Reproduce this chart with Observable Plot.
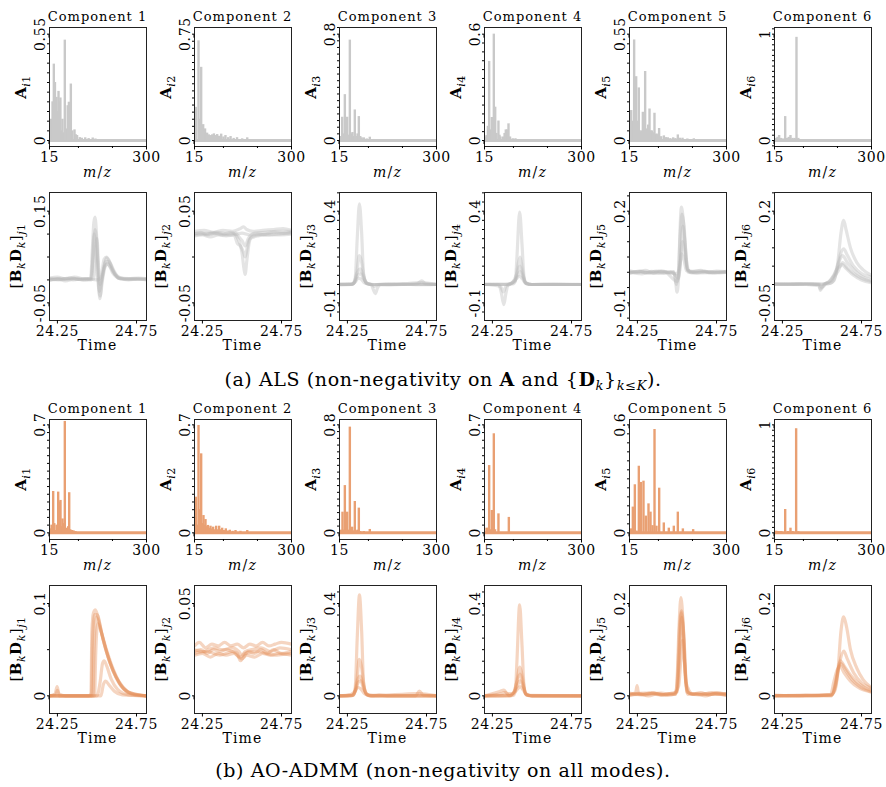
<!DOCTYPE html>
<html><head><meta charset="utf-8">
<script src="https://cdn.jsdelivr.net/npm/d3@7"></script>
<script src="https://cdn.jsdelivr.net/npm/@observablehq/plot@0.6"></script>
<style>
body{margin:0;background:#fff;}
#fig{position:relative;width:886px;height:787px;font-family:"DejaVu Serif",serif;color:#000;overflow:hidden;}
#fig svg{position:absolute;overflow:visible;}
#fig svg text{letter-spacing:0.6px;}
.lbl{position:absolute;white-space:nowrap;transform:translate(-50%,-50%);line-height:1;}
.ttl{font-size:13px;letter-spacing:1px;}
.xl{font-size:14px;letter-spacing:1.2px;}
.yl{font-size:15px;letter-spacing:0.5px;transform:translate(-50%,-50%) rotate(-90deg);}
.yl sub{font-size:11px;}
.cap{font-size:19px;letter-spacing:0.6px;}
.cap sub{font-size:13px;}
</style></head><body><div id="fig"></div><script>
// ---------- data ----------
const components = ["Component 1","Component 2","Component 3","Component 4","Component 5","Component 6"];
const mzTicks = [15, 300];
const mzMinorTicks = [100, 200];
const timeTicks = [24.25, 24.75];
const mzRange = [15, 300];
const timeRange = [24.2, 24.813];

// (a) ALS, spectra A_{ir}: [m/z, height]
const alsSpec1 = [[20,0.11],[24,0.2],[27.7,0.395],[31,0.3],[35.6,0.223],[38,0.15],[41.5,0.254],[44,0.2],[47,0.22],[50,0.05],[53,0.11],[56,0.04],[60,0.519],[63,0.06],[66,0.04],[68.5,0.18],[72,0.198],[74.5,0.12],[77.7,0.292],[82,0.05],[88.5,0.055],[92,0.03],[96,0.026],[104,0.015],[110,0.012],[120,0.014],[130,0.01],[142,0.013],[150,0.008]];
const alsSpec2 = [[19,0.234],[26.8,0.703],[30.5,0.15],[34.6,0.516],[38,0.08],[40.5,0.112],[43.5,0.07],[46,0.082],[49,0.05],[52,0.052],[57,0.04],[62,0.035],[67,0.04],[72,0.047],[77,0.035],[81.6,0.042],[87,0.03],[93.4,0.045],[100,0.025],[106,0.035],[114,0.02],[121,0.028],[130,0.015],[140,0.02],[155,0.012],[170,0.019]];
const alsSpec3 = [[20,0.03],[23,0.175],[26,0.05],[30.7,0.345],[34,0.05],[37.5,0.175],[41,0.04],[45.4,0.755],[49,0.05],[53,0.06],[56,0.03],[60,0.23],[64,0.03],[68,0.05],[71.8,0.18],[76,0.03],[80,0.02],[86.5,0.02],[95,0.012],[104,0.025],[115,0.008]];
const alsSpec4 = [[18,0.02],[21,0.028],[25,0.08],[28.7,0.446],[32,0.06],[36.5,0.13],[39,0.05],[42.4,0.6],[46.4,0.188],[50,0.04],[56,0.11],[59,0.03],[62,0.02],[70,0.02],[74,0.04],[77.6,0.06],[82,0.06],[85.5,0.094],[90,0.02],[98,0.01],[106,0.01]];
const alsSpec5 = [[17,0.08],[20,0.155],[25,0.1],[28.7,0.52],[32,0.2],[34.6,0.33],[38,0.1],[42.4,0.272],[45,0.05],[47.3,0.043],[51,0.05],[54.2,0.146],[58,0.07],[61,0.357],[64,0.06],[67,0.05],[70,0.08],[73.8,0.163],[77,0.05],[80.6,0.05],[84,0.04],[88.4,0.141],[91,0.03],[94.4,0.034],[98,0.03],[102,0.062],[108,0.02],[116,0.024],[122,0.015],[127.6,0.014],[135,0.01],[143.4,0.014],[150,0.01],[157,0.029],[163,0.012],[170.7,0.012],[185,0.008],[204,0.009]];
const alsSpec6 = [[20,0.02],[24,0.03],[28.7,0.047],[34,0.02],[40,0.015],[46.4,0.225],[52,0.02],[57,0.03],[62,0.047],[68,0.02],[74,0.02],[79.6,0.97],[85,0.02]];

// (b) AO-ADMM, spectra
const admmSpec1 = [[18,0.026],[21,0.05],[25.8,0.268],[29,0.06],[32.6,0.015],[36,0.05],[40.5,0.264],[43.5,0.2],[47.3,0.21],[50,0.04],[53.2,0.09],[56,0.06],[60,0.722],[63,0.03],[67,0.015],[70,0.04],[72.9,0.26],[76,0.02],[81.6,0.015],[86,0.012],[91.4,0.008]];
const admmSpec2 = [[19,0.231],[22,0.05],[26.8,0.696],[30,0.15],[34.6,0.512],[38,0.06],[41.4,0.112],[44,0.05],[47.3,0.086],[51,0.04],[54.2,0.048],[58,0.03],[62,0.043],[66,0.025],[69.8,0.037],[74,0.02],[78.7,0.043],[83,0.02],[87.5,0.043],[92,0.02],[96.3,0.03],[101,0.015],[107,0.026],[113,0.012],[118.8,0.017],[127,0.01],[135.5,0.015],[150,0.01],[170,0.015]];
const admmSpec3 = [[20,0.02],[23.8,0.153],[27,0.02],[30.7,0.35],[34,0.02],[37.5,0.153],[41,0.02],[45.4,0.783],[49,0.02],[52.2,0.042],[56,0.015],[60,0.232],[64,0.015],[68,0.02],[71.8,0.183],[76,0.01],[86.5,0.01],[104,0.025]];
const admmSpec4 = [[21,0.03],[25,0.03],[28.7,0.436],[32,0.02],[36.5,0.145],[39,0.02],[42.4,0.642],[46,0.02],[56,0.123],[86.5,0.1]];
const admmSpec5 = [[20,0.022],[24.8,0.143],[30.7,0.267],[35.6,0.01],[42.4,0.37],[48.3,0.28],[56.1,0.287],[63,0.093],[70.8,0.161],[76.7,0.115],[82.6,0.04],[88.5,0.574],[94.3,0.037],[102.2,0.248],[115.8,0.055],[130.5,0.026],[145.2,0.037],[157,0.115],[171.8,0.022],[202,0.018]];
const admmSpec6 = [[20,0.015],[25.8,0.012],[30,0.01],[35,0.012],[46.4,0.216],[55,0.012],[62,0.043],[68,0.012],[78.6,0.964],[85,0.01]];

// labelled y ticks of each panel
const alsSpecTicks  = [[0,0.55],[0,0.75],[0,0.8],[0,0.6],[0,0.55],[0,1]];
const admmSpecTicks = [[0,0.7],[0,0.7],[0,0.8],[0,0.7],[0,0.6],[0,1]];
const alsProfTicks  = [[-0.05,0.15],[-0.05,0.05],[-0.1,0.4],[-0.1,0.4],[-0.1,0.2],[-0.05,0.2]];
const admmProfTicks = [[0,0.1],[0,0.05],[0,0.4],[0,0.4],[0,0.2],[0,0.2]];

// (a) ALS, elution profiles [B_k D_k]_{jr}: one list of [time, value] per sample curve
const alsProf1 = [
 [[24.2,0.004],[24.25,0.006],[24.3,0.002],[24.36,0.006],[24.42,0.002],[24.46,0.003],[24.47,0.06],[24.48,0.125],[24.488,0.137],[24.5,0.08],[24.51,0.0],[24.518,-0.041],[24.53,-0.005],[24.55,0.03],[24.57,0.035],[24.6,0.015],[24.64,0.004],[24.7,0.003],[24.76,0.004],[24.813,0.003]],
 [[24.2,0.0],[24.25,0.003],[24.3,-0.002],[24.36,0.003],[24.42,0.0],[24.465,0.0],[24.475,0.05],[24.488,0.11],[24.5,0.07],[24.515,-0.025],[24.53,0.0],[24.555,0.04],[24.575,0.04],[24.6,0.02],[24.64,0.003],[24.7,0.0],[24.76,0.002],[24.813,0.0]],
 [[24.2,0.002],[24.26,0.0],[24.32,0.004],[24.38,0.001],[24.44,0.003],[24.48,0.002],[24.49,0.06],[24.5,0.09],[24.51,0.03],[24.52,-0.01],[24.54,0.02],[24.56,0.048],[24.58,0.038],[24.61,0.015],[24.65,0.002],[24.72,0.003],[24.813,0.001]],
 [[24.2,-0.001],[24.28,0.003],[24.35,0.0],[24.42,0.003],[24.5,0.0],[24.525,0.005],[24.545,0.045],[24.56,0.05],[24.58,0.04],[24.61,0.018],[24.64,0.004],[24.7,0.001],[24.813,0.002]],
 [[24.2,0.003],[24.27,0.001],[24.34,0.004],[24.41,0.0],[24.46,0.002],[24.47,0.03],[24.482,0.1],[24.495,0.05],[24.508,-0.01],[24.52,-0.035],[24.535,0.0],[24.56,0.035],[24.58,0.03],[24.62,0.01],[24.68,0.002],[24.813,0.002]]
];
const alsProf2 = [
 [[24.2,0.025],[24.24,0.027],[24.28,0.024],[24.33,0.026],[24.38,0.025],[24.43,0.027],[24.46,0.024],[24.48,0.018],[24.5,0.005],[24.512,-0.012],[24.52,-0.019],[24.53,-0.005],[24.545,0.015],[24.56,0.022],[24.6,0.024],[24.65,0.025],[24.7,0.027],[24.76,0.026],[24.813,0.027]],
 [[24.2,0.023],[24.25,0.024],[24.3,0.022],[24.35,0.024],[24.4,0.023],[24.45,0.024],[24.47,0.015],[24.49,0.012],[24.51,0.005],[24.52,0.0],[24.535,0.012],[24.55,0.02],[24.6,0.023],[24.66,0.024],[24.72,0.025],[24.813,0.026]],
 [[24.2,0.028],[24.26,0.029],[24.32,0.027],[24.38,0.029],[24.44,0.028],[24.49,0.031],[24.51,0.033],[24.53,0.03],[24.57,0.028],[24.63,0.029],[24.7,0.03],[24.76,0.031],[24.813,0.029]],
 [[24.2,0.026],[24.27,0.025],[24.34,0.027],[24.41,0.025],[24.46,0.026],[24.48,0.022],[24.5,0.018],[24.52,0.012],[24.54,0.02],[24.58,0.026],[24.65,0.027],[24.72,0.028],[24.813,0.028]],
 [[24.2,0.024],[24.3,0.026],[24.4,0.024],[24.47,0.025],[24.5,0.026],[24.55,0.024],[24.6,0.025],[24.7,0.024],[24.813,0.025]]
];
const alsProf3 = [
 [[24.2,0],[24.26,0.002],[24.29,0.004],[24.3,0.04],[24.312,0.25],[24.326,0.44],[24.34,0.28],[24.352,0.06],[24.37,0.005],[24.42,0.0],[24.5,0.002],[24.6,0.0],[24.7,0.002],[24.813,0]],
 [[24.2,0.002],[24.27,0],[24.295,0.01],[24.31,0.07],[24.325,0.158],[24.338,0.13],[24.355,0.04],[24.375,0.005],[24.4,0.0],[24.415,-0.03],[24.427,-0.05],[24.44,-0.02],[24.46,0.0],[24.55,0.002],[24.65,0],[24.813,0.001]],
 [[24.2,-0.002],[24.28,0.0],[24.295,0.02],[24.315,0.07],[24.33,0.085],[24.345,0.06],[24.365,0.015],[24.39,0.0],[24.5,0.0],[24.6,0.002],[24.69,0.004],[24.72,0.02],[24.745,0.004],[24.813,0.0]],
 [[24.2,0.001],[24.28,0.001],[24.3,0.02],[24.32,0.055],[24.335,0.058],[24.35,0.035],[24.37,0.01],[24.4,0.0],[24.5,-0.002],[24.6,0.001],[24.7,-0.001],[24.813,0.001]],
 [[24.2,0],[24.28,0.003],[24.3,0.015],[24.318,0.035],[24.335,0.03],[24.36,0.008],[24.4,0.0],[24.42,-0.01],[24.44,0.0],[24.55,0.001],[24.72,0.01],[24.813,0.0]]
];
const alsProf4 = [
 [[24.2,0],[24.3,0.002],[24.38,0.003],[24.395,0.02],[24.405,0.15],[24.422,0.395],[24.437,0.22],[24.45,0.04],[24.465,0.004],[24.5,0],[24.6,0.001],[24.7,0],[24.813,0.001]],
 [[24.2,0.001],[24.29,0.0],[24.305,-0.04],[24.322,-0.11],[24.335,-0.05],[24.35,0.0],[24.38,0.01],[24.395,0.02],[24.41,0.1],[24.425,0.15],[24.44,0.08],[24.455,0.015],[24.48,0.0],[24.6,0.0],[24.813,0.0]],
 [[24.2,0],[24.3,-0.01],[24.32,-0.04],[24.335,-0.01],[24.36,0.0],[24.385,0.02],[24.405,0.06],[24.423,0.1],[24.44,0.06],[24.46,0.01],[24.5,0.0],[24.65,0.001],[24.813,0]],
 [[24.2,0.001],[24.33,0.0],[24.37,0.005],[24.39,0.02],[24.41,0.05],[24.425,0.07],[24.44,0.045],[24.46,0.008],[24.5,0.0],[24.7,0.001],[24.813,0]],
 [[24.2,0],[24.35,0.0],[24.38,0.015],[24.4,0.03],[24.42,0.045],[24.44,0.03],[24.46,0.005],[24.5,0],[24.813,0]]
];
const alsProf5 = [
 [[24.2,0.005],[24.25,0.0],[24.3,0.006],[24.35,-0.002],[24.4,0.005],[24.45,0.0],[24.48,0.002],[24.49,-0.02],[24.5,-0.065],[24.51,-0.02],[24.518,0.12],[24.528,0.213],[24.54,0.17],[24.553,0.07],[24.565,0.008],[24.6,0.003],[24.65,0.006],[24.7,0.0],[24.75,0.004],[24.813,0.002]],
 [[24.2,-0.004],[24.26,0.004],[24.31,-0.003],[24.37,0.004],[24.43,-0.003],[24.48,0.0],[24.495,-0.04],[24.508,-0.01],[24.52,0.12],[24.532,0.19],[24.545,0.15],[24.558,0.05],[24.57,0.0],[24.62,-0.003],[24.68,0.003],[24.74,-0.002],[24.813,0.0]],
 [[24.2,0.0],[24.28,-0.005],[24.34,0.003],[24.4,-0.004],[24.46,0.002],[24.49,-0.01],[24.51,-0.02],[24.525,0.06],[24.537,0.15],[24.55,0.1],[24.562,0.03],[24.58,0.0],[24.64,0.004],[24.72,-0.002],[24.813,0.003]],
 [[24.2,0.002],[24.3,0.0],[24.4,0.002],[24.5,-0.005],[24.52,0.03],[24.535,0.1],[24.548,0.07],[24.565,0.01],[24.6,0.0],[24.7,0.002],[24.813,0.0]],
 [[24.2,-0.002],[24.27,0.003],[24.35,-0.004],[24.42,0.002],[24.5,-0.03],[24.515,0.0],[24.53,0.06],[24.545,0.04],[24.56,0.005],[24.65,-0.002],[24.813,0.001]]
];
const alsProf6 = [
 [[24.2,0.002],[24.3,0.001],[24.4,0.002],[24.47,0.001],[24.5,0.002],[24.55,0.003],[24.575,0.01],[24.6,0.06],[24.62,0.14],[24.637,0.175],[24.652,0.15],[24.68,0.1],[24.72,0.06],[24.76,0.04],[24.813,0.025]],
 [[24.2,0.0],[24.3,0.002],[24.4,0.0],[24.48,-0.003],[24.49,-0.016],[24.5,-0.01],[24.52,0.0],[24.56,0.005],[24.59,0.03],[24.615,0.08],[24.637,0.097],[24.66,0.08],[24.7,0.05],[24.75,0.03],[24.813,0.02]],
 [[24.2,0.002],[24.3,0.0],[24.4,0.002],[24.48,0.0],[24.49,-0.012],[24.51,0.0],[24.53,0.004],[24.56,0.01],[24.59,0.04],[24.61,0.065],[24.63,0.079],[24.66,0.06],[24.7,0.04],[24.75,0.022],[24.813,0.012]],
 [[24.2,0.0],[24.3,0.001],[24.4,0.0],[24.48,0.001],[24.5,-0.008],[24.52,0.002],[24.55,0.01],[24.58,0.03],[24.6,0.045],[24.615,0.05],[24.63,0.06],[24.66,0.045],[24.7,0.03],[24.75,0.017],[24.813,0.008]],
 [[24.2,0.001],[24.3,0.0],[24.4,0.002],[24.5,0.0],[24.54,0.006],[24.57,0.02],[24.6,0.035],[24.625,0.055],[24.65,0.045],[24.7,0.025],[24.75,0.012],[24.813,0.005]]
];

// (b) AO-ADMM, elution profiles
const admmProf1 = [
 [[24.2,0.0],[24.235,0.002],[24.248,0.01],[24.26,0.002],[24.3,0.0],[24.38,0.0],[24.45,0.0],[24.462,0.003],[24.468,0.07],[24.478,0.09],[24.49,0.093],[24.51,0.083],[24.54,0.06],[24.57,0.042],[24.6,0.028],[24.64,0.015],[24.69,0.005],[24.74,0.001],[24.813,0.0]],
 [[24.2,0.0],[24.24,0.001],[24.25,0.006],[24.262,0.0],[24.35,0.0],[24.465,0.0],[24.472,0.06],[24.485,0.088],[24.5,0.088],[24.53,0.068],[24.56,0.048],[24.6,0.028],[24.64,0.014],[24.7,0.004],[24.813,0.0]],
 [[24.2,0.0],[24.3,0.0],[24.4,0.0],[24.475,0.0],[24.482,0.05],[24.495,0.085],[24.51,0.08],[24.54,0.06],[24.58,0.037],[24.62,0.02],[24.67,0.007],[24.72,0.002],[24.813,0.0]],
 [[24.2,0.0],[24.3,0.0],[24.4,0.0],[24.5,0.0],[24.52,0.015],[24.535,0.035],[24.545,0.038],[24.56,0.033],[24.59,0.018],[24.63,0.007],[24.7,0.001],[24.813,0.0]],
 [[24.2,0.0],[24.35,0.0],[24.5,0.0],[24.525,0.0],[24.54,0.012],[24.555,0.016],[24.575,0.012],[24.61,0.005],[24.66,0.001],[24.813,0.0]],
 [[24.2,0.0],[24.4,0.0],[24.485,0.0],[24.492,0.045],[24.505,0.078],[24.525,0.07],[24.56,0.05],[24.6,0.03],[24.65,0.012],[24.7,0.004],[24.813,0.0]]
];
const admmProf2 = [
 [[24.2,0.027],[24.23,0.029],[24.27,0.026],[24.31,0.028],[24.35,0.027],[24.39,0.029],[24.43,0.027],[24.47,0.028],[24.51,0.026],[24.55,0.028],[24.59,0.027],[24.63,0.029],[24.67,0.027],[24.71,0.028],[24.75,0.029],[24.813,0.028]],
 [[24.2,0.024],[24.24,0.025],[24.28,0.023],[24.32,0.025],[24.36,0.024],[24.4,0.025],[24.44,0.024],[24.47,0.023],[24.49,0.019],[24.51,0.021],[24.54,0.024],[24.58,0.023],[24.62,0.025],[24.66,0.023],[24.7,0.025],[24.75,0.023],[24.813,0.024]],
 [[24.2,0.022],[24.25,0.023],[24.3,0.021],[24.35,0.023],[24.4,0.022],[24.45,0.023],[24.48,0.021],[24.5,0.02],[24.53,0.022],[24.58,0.021],[24.63,0.023],[24.68,0.022],[24.73,0.023],[24.813,0.022]],
 [[24.2,0.025],[24.26,0.024],[24.32,0.026],[24.38,0.025],[24.44,0.026],[24.48,0.024],[24.5,0.022],[24.52,0.024],[24.56,0.025],[24.62,0.026],[24.68,0.024],[24.74,0.026],[24.813,0.025]],
 [[24.2,0.023],[24.28,0.024],[24.36,0.022],[24.44,0.024],[24.49,0.021],[24.52,0.023],[24.6,0.024],[24.7,0.022],[24.813,0.023]]
];
const admmProf3 = [
 [[24.2,0],[24.27,0.001],[24.29,0.004],[24.3,0.04],[24.312,0.25],[24.326,0.437],[24.34,0.28],[24.352,0.06],[24.37,0.005],[24.42,0.0],[24.6,0.0],[24.813,0]],
 [[24.2,0],[24.28,0.002],[24.295,0.015],[24.31,0.07],[24.325,0.158],[24.338,0.13],[24.355,0.04],[24.375,0.005],[24.45,0.0],[24.813,0]],
 [[24.2,0],[24.28,0.003],[24.3,0.02],[24.315,0.07],[24.33,0.086],[24.345,0.06],[24.365,0.015],[24.39,0.0],[24.68,0.0],[24.705,0.02],[24.73,0.003],[24.813,0]],
 [[24.2,0],[24.28,0.001],[24.3,0.02],[24.32,0.06],[24.335,0.065],[24.35,0.035],[24.37,0.01],[24.4,0.0],[24.45,0.004],[24.5,0.0],[24.813,0]],
 [[24.2,0],[24.27,0.005],[24.29,0.015],[24.318,0.036],[24.335,0.03],[24.36,0.008],[24.4,0.0],[24.7,0.01],[24.813,0]]
];
const admmProf4 = [
 [[24.2,0],[24.3,0.0],[24.38,0.002],[24.395,0.02],[24.405,0.15],[24.422,0.394],[24.437,0.22],[24.45,0.04],[24.465,0.004],[24.5,0],[24.813,0]],
 [[24.2,0],[24.3,0.02],[24.322,0.025],[24.345,0.01],[24.38,0.01],[24.4,0.05],[24.424,0.125],[24.44,0.08],[24.46,0.01],[24.5,0],[24.813,0]],
 [[24.2,0],[24.31,0.01],[24.33,0.015],[24.36,0.0],[24.39,0.02],[24.405,0.06],[24.425,0.094],[24.44,0.06],[24.46,0.008],[24.5,0],[24.813,0]],
 [[24.2,0],[24.35,0.0],[24.38,0.01],[24.405,0.04],[24.425,0.065],[24.445,0.04],[24.465,0.005],[24.5,0],[24.813,0]],
 [[24.2,0],[24.36,0.003],[24.39,0.015],[24.41,0.03],[24.425,0.04],[24.445,0.025],[24.47,0.002],[24.813,0]]
];
const admmProf5 = [
 [[24.2,0.004],[24.238,0.006],[24.248,0.022],[24.258,0.004],[24.3,0.002],[24.35,0.006],[24.4,0.002],[24.45,0.005],[24.49,0.003],[24.5,0.03],[24.513,0.15],[24.525,0.213],[24.538,0.16],[24.55,0.06],[24.562,0.008],[24.6,0.004],[24.65,0.007],[24.7,0.002],[24.75,0.006],[24.813,0.003]],
 [[24.2,0.001],[24.26,0.005],[24.32,0.0],[24.38,0.005],[24.44,0.001],[24.49,0.004],[24.505,0.05],[24.518,0.16],[24.528,0.184],[24.54,0.15],[24.555,0.04],[24.568,0.003],[24.62,0.005],[24.68,0.0],[24.74,0.005],[24.813,0.001]],
 [[24.2,0.006],[24.27,0.002],[24.34,0.007],[24.41,0.002],[24.47,0.006],[24.5,0.01],[24.515,0.08],[24.53,0.17],[24.545,0.12],[24.56,0.02],[24.58,0.005],[24.64,0.002],[24.72,0.007],[24.813,0.004]],
 [[24.2,0.003],[24.3,0.006],[24.4,0.002],[24.48,0.005],[24.51,0.02],[24.525,0.08],[24.535,0.12],[24.548,0.07],[24.565,0.01],[24.6,0.003],[24.7,0.005],[24.813,0.002]],
 [[24.2,0.002],[24.3,0.004],[24.4,0.006],[24.47,0.003],[24.5,0.008],[24.515,0.1],[24.527,0.18],[24.54,0.13],[24.556,0.03],[24.6,0.004],[24.7,0.003],[24.813,0.005]]
];
const admmProf6 = [
 [[24.2,0],[24.4,0.001],[24.55,0.001],[24.58,0.01],[24.6,0.05],[24.62,0.14],[24.637,0.171],[24.655,0.15],[24.68,0.1],[24.72,0.06],[24.76,0.035],[24.813,0.018]],
 [[24.2,0.001],[24.4,0.0],[24.56,0.002],[24.585,0.02],[24.61,0.07],[24.638,0.097],[24.66,0.08],[24.7,0.05],[24.75,0.028],[24.813,0.016]],
 [[24.2,0],[24.4,0.001],[24.56,0.0],[24.58,0.02],[24.6,0.055],[24.616,0.076],[24.64,0.065],[24.68,0.045],[24.72,0.03],[24.76,0.02],[24.813,0.011]],
 [[24.2,0.001],[24.4,0],[24.565,0.002],[24.585,0.025],[24.605,0.06],[24.62,0.07],[24.645,0.058],[24.69,0.035],[24.74,0.02],[24.813,0.009]],
 [[24.2,0],[24.4,0.001],[24.555,0.003],[24.575,0.03],[24.595,0.055],[24.612,0.065],[24.64,0.05],[24.68,0.032],[24.73,0.018],[24.813,0.008]]
];

// ---------- layout ----------
const GRAY = "#c9c9c9", GRAY_LINE = "#b9b9b9";
const ORANGE = "#e9a073", ORANGE_LINE = "#e4915c";
const FW = 97, ML = 34, MR = 14, MT = 6, MB = 22;
const colLeft = c => 49 + 145 * c;
const rows = [
  {top: 27,  h: 119, kind: "spec", specs: [alsSpec1,alsSpec2,alsSpec3,alsSpec4,alsSpec5,alsSpec6], ticks: alsSpecTicks, color: GRAY,
   dom: ([lo, hi]) => [-hi * 18 / 320, hi * 340 / 320]},
  {top: 192, h: 128, kind: "prof", specs: [alsProf1,alsProf2,alsProf3,alsProf4,alsProf5,alsProf6], ticks: alsProfTicks, color: GRAY_LINE,
   dom: ([lo, hi]) => [lo - (hi - lo) * 53 / 275, hi + (hi - lo) * 56 / 275]},
  {top: 419, h: 120, kind: "spec", specs: [admmSpec1,admmSpec2,admmSpec3,admmSpec4,admmSpec5,admmSpec6], ticks: admmSpecTicks, color: ORANGE,
   dom: ([lo, hi]) => [-hi * 20 / 324, hi * 340 / 324]},
  {top: 585, h: 128, kind: "prof", specs: [admmProf1,admmProf2,admmProf3,admmProf4,admmProf5,admmProf6], ticks: admmProfTicks, color: ORANGE_LINE,
   dom: ([lo, hi]) => [lo - (hi - lo) * 53 / 277, hi + (hi - lo) * 54 / 277]}
];

const fig = document.getElementById("fig");
function addLabel(html, cls, x, y) {
  const d = document.createElement("div");
  d.className = "lbl " + cls;
  d.innerHTML = html;
  d.style.left = x + "px"; d.style.top = y + "px";
  fig.appendChild(d);
}
function minorTicks([d0, d1], step) {
  return d3.range(Math.ceil(d0 / step - 1e-9), Math.floor(d1 / step + 1e-9) + 1).map(i => +(i * step).toFixed(4));
}

rows.forEach((row, r) => {
  row.specs.forEach((spec, c) => {
    const yDom = row.dom(row.ticks[c]);
    const isSpec = row.kind === "spec";
    const marks = [];
    if (isSpec) {
      const peaks = spec.map(([mz, h]) => ({mz, h}));
      marks.push(Plot.ruleY([0], {stroke: row.color, strokeWidth: 3}));
      marks.push(Plot.ruleX(peaks, {x: "mz", y1: 0, y2: "h", stroke: row.color, strokeWidth: 2.4}));
    } else {
      const pts = spec.flatMap((curve, k) => curve.map(([t, v]) => ({t, v, k})));
      marks.push(Plot.line(pts, {x: "t", y: "v", z: "k", stroke: row.color, strokeOpacity: 0.38, strokeWidth: 3.2, curve: "monotone-x", clip: true}));
    }
    marks.push(Plot.frame({stroke: "#222", strokeWidth: 1}));
    marks.push(Plot.axisY({ticks: minorTicks(yDom, 0.05), tickSize: 2, tickFormat: () => "", label: null}));
    marks.push(Plot.axisY({ticks: row.ticks[c], tickSize: 3.5, tickPadding: 1.5, tickFormat: d => String(d),
      rotate: -90, textAnchor: "middle", lineAnchor: "bottom", fontSize: 14, label: null}));
    if (isSpec) marks.push(Plot.axisX({ticks: mzMinorTicks, tickSize: 2, tickFormat: () => "", label: null}));
    marks.push(Plot.axisX({ticks: isSpec ? mzTicks : timeTicks, tickSize: 3.5, tickPadding: 2,
      tickFormat: d => String(d), fontSize: 14, label: null}));
    const svg = Plot.plot({
      width: ML + FW + MR, height: MT + row.h + MB,
      marginLeft: ML, marginRight: MR, marginTop: MT, marginBottom: MB,
      x: {domain: isSpec ? mzRange : timeRange},
      y: {domain: yDom},
      style: {fontFamily: "DejaVu Serif", background: "transparent", color: "#000"},
      marks
    });
    svg.style.left = (colLeft(c) - ML) + "px";
    svg.style.top = (row.top - MT) + "px";
    fig.appendChild(svg);

    const cx = colLeft(c) + FW / 2;
    if (isSpec) {
      addLabel(components[c], "ttl", cx, row.top - 11);
      addLabel("<i>m</i>/<i>z</i>", "xl", cx, row.top + row.h + 26);
      addLabel(`<b>A</b><sub><i>i</i>${c + 1}</sub>`, "yl", colLeft(c) - 26, row.top + row.h / 2);
    } else {
      addLabel("Time", "xl", cx, row.top + row.h + 25);
      addLabel(`[<b>B</b><sub><i>k</i></sub><b>D</b><sub><i>k</i></sub>]<sub><i>j</i>${c + 1}</sub>`, "yl", colLeft(c) - 31, row.top + row.h / 2);
    }
  });
});

addLabel('(a) ALS (non-negativity on <b>A</b> and {<b>D</b><sub><i>k</i></sub>}<sub><i>k</i>≤<i>K</i></sub>).', "cap", 443, 381);
addLabel('(b) AO-ADMM (non-negativity on all modes).', "cap", 443, 770);
</script></body></html>
